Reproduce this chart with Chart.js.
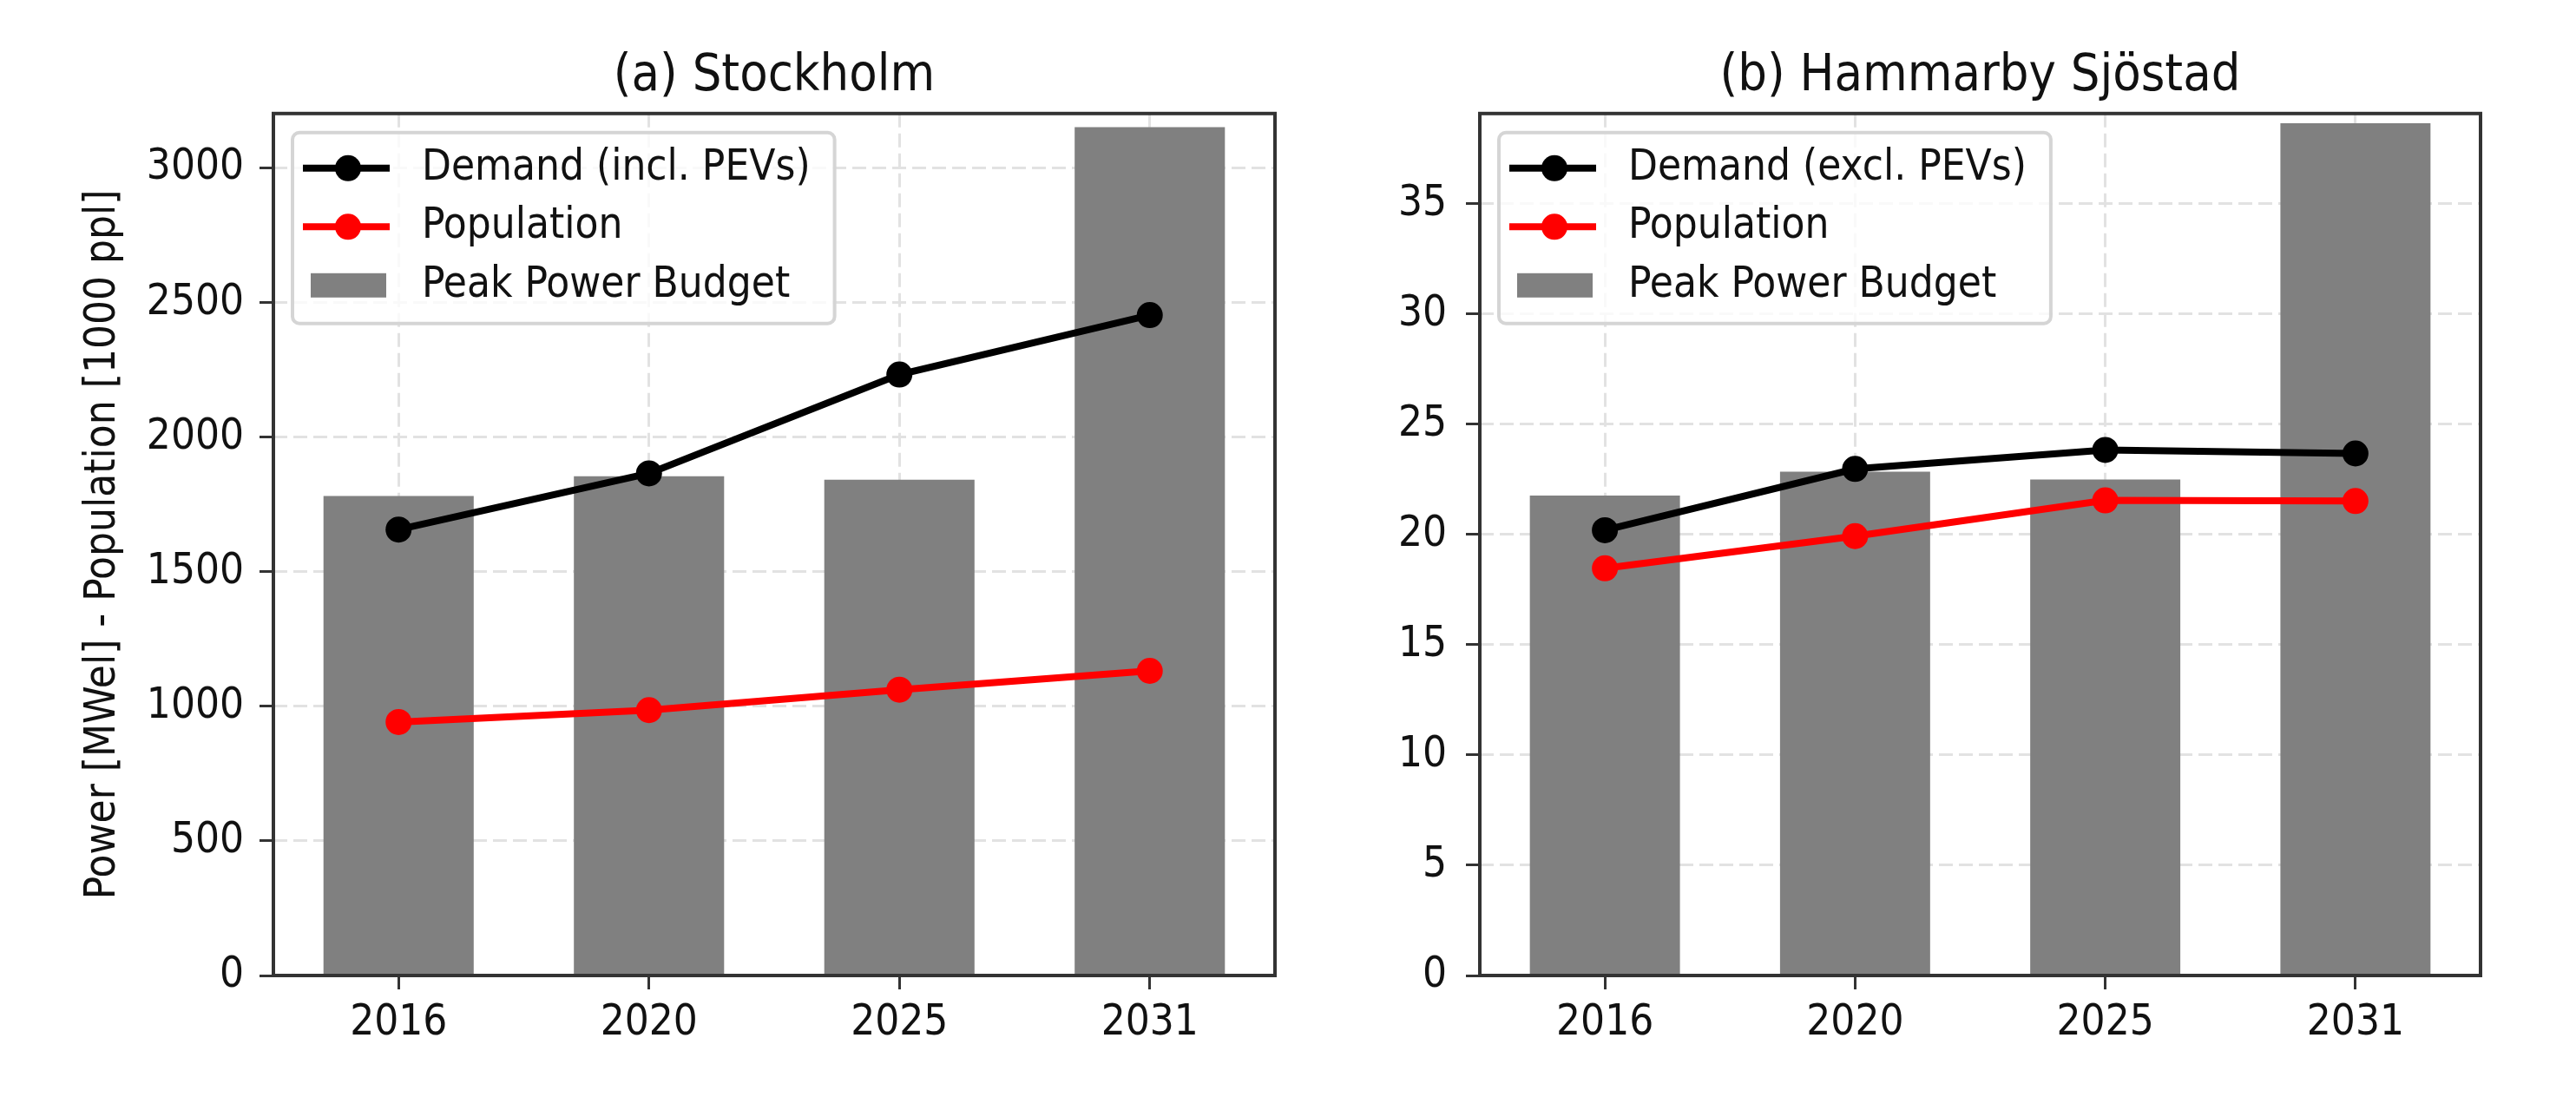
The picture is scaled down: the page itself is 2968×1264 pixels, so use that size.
<!DOCTYPE html>
<html>
<head>
<meta charset="utf-8">
<script src="https://cdn.jsdelivr.net/npm/chart.js@4.4.0/dist/chart.umd.min.js"></script>
<style>
    html, body { margin: 0; padding: 0; background: #fff; }
    #wrap { position: relative; width: 2968px; height: 1264px; }
    .panel { position: absolute; top: 0; width: 1484px; height: 1264px; }
</style>
</head>
<body>
<div id="wrap">
    <div class="panel" style="left:0"><canvas id="stockholm" width="1484" height="1264"></canvas></div>
    <div class="panel" style="left:1484px"><canvas id="hammarby" width="1484" height="1264"></canvas></div>
</div>
<script>
const years = ['2016', '2020', '2025', '2031'];

// (a) Stockholm
const sthlmBudget = [1782, 1855, 1842, 3152];
const sthlmDemand = [1657, 1866, 2233, 2454];
const sthlmPopulation = [942, 986, 1062, 1132];
const sthlmTicks = [0, 500, 1000, 1500, 2000, 2500, 3000];

// (b) Hammarby Sjöstad
const hsBudget = [21.77, 22.85, 22.5, 38.66];
const hsDemand = [20.2, 22.98, 23.84, 23.68];
const hsPopulation = [18.47, 19.93, 21.55, 21.52];
const hsTicks = [0, 5, 10, 15, 20, 25, 30, 35];

const FONT = "'DejaVu Sans Condensed', 'DejaVu Sans', sans-serif";
const TEXT = '#111';

// matplotlib-like closed frame around the axes
const framePlugin = {
    id: 'frame',
    afterDatasetsDraw(chart) {
        const { ctx, chartArea: a } = chart;
        ctx.save();
        ctx.strokeStyle = '#333';
        ctx.lineWidth = 4;
        ctx.strokeRect(a.left, a.top, a.right - a.left, a.bottom - a.top);
        ctx.restore();
    }
};

// legend drawn inside the plot, upper left
const legendPlugin = {
    id: 'insideLegend',
    afterDatasetsDraw(chart) {
        const { ctx, chartArea: a } = chart;
        const x0 = a.left + 22, y0 = a.top + 22;
        const rowH = 67.5;
        const textX = x0 + 149;
        ctx.save();
        ctx.font = '49px ' + FONT;
        let maxW = 0;
        chart.data.datasets.forEach(d => { maxW = Math.max(maxW, ctx.measureText(d.label).width); });
        const w = 149 + maxW + 28, h = 220, r = 8;

        ctx.beginPath();
        ctx.moveTo(x0 + r, y0);
        ctx.arcTo(x0 + w, y0, x0 + w, y0 + h, r);
        ctx.arcTo(x0 + w, y0 + h, x0, y0 + h, r);
        ctx.arcTo(x0, y0 + h, x0, y0, r);
        ctx.arcTo(x0, y0, x0 + w, y0, r);
        ctx.closePath();
        ctx.fillStyle = 'rgba(255,255,255,0.8)';
        ctx.fill();
        ctx.strokeStyle = '#d5d5d5';
        ctx.lineWidth = 4;
        ctx.stroke();

        chart.data.datasets.forEach((d, i) => {
            const y = y0 + 41 + i * rowH;
            if (d.type === 'line') {
                ctx.strokeStyle = d.borderColor;
                ctx.lineWidth = 8;
                ctx.beginPath();
                ctx.moveTo(x0 + 12, y);
                ctx.lineTo(x0 + 112, y);
                ctx.stroke();
                ctx.fillStyle = d.borderColor;
                ctx.beginPath();
                ctx.arc(x0 + 64, y, 15, 0, Math.PI * 2);
                ctx.fill();
            } else {
                ctx.fillStyle = d.backgroundColor;
                ctx.fillRect(x0 + 21, y - 14, 87, 28);
            }
            ctx.fillStyle = TEXT;
            ctx.textAlign = 'left';
            ctx.textBaseline = 'middle';
            ctx.fillText(d.label, textX, y);
        });
        ctx.restore();
    }
};

function gridOpts() {
    return {
        color: '#e2e2e2',
        lineWidth: 3,
        tickLength: 16,
        tickColor: '#333',
        tickWidth: 3,
        tickBorderDash: []
    };
}

function makeChart(id, cfg) {
    return new Chart(document.getElementById(id), {
        type: 'bar',
        data: {
            labels: years,
            datasets: [
                {
                    type: 'line', label: cfg.demandLabel, data: cfg.demand,
                    borderColor: '#000000', backgroundColor: '#000000', borderWidth: 8,
                    pointRadius: 15, pointBorderWidth: 0, pointBackgroundColor: '#000000',
                    tension: 0, order: 0
                },
                {
                    type: 'line', label: 'Population', data: cfg.population,
                    borderColor: '#ff0000', backgroundColor: '#ff0000', borderWidth: 8,
                    pointRadius: 15, pointBorderWidth: 0, pointBackgroundColor: '#ff0000',
                    tension: 0, order: 0
                },
                {
                    label: 'Peak Power Budget', data: cfg.budget,
                    backgroundColor: '#808080', categoryPercentage: 1, barPercentage: 0.6,
                    order: 1
                }
            ]
        },
        options: {
            responsive: false,
            animation: false,
            devicePixelRatio: 1,
            layout: { padding: { left: 0, right: cfg.padRight, top: 0, bottom: 0 } },
            plugins: {
                legend: { display: false },
                tooltip: { enabled: false },
                title: {
                    display: true, text: cfg.title, color: TEXT, fullSize: false,
                    font: { family: FONT, size: 59, weight: 'normal' },
                    padding: { top: 53, bottom: 7 }
                }
            },
            scales: {
                x: {
                    grid: Object.assign(gridOpts(), { offset: false }),
                    border: { display: false, dash: [16, 7] },
                    ticks: { color: TEXT, padding: 10, font: { family: FONT, size: 49 } },
                    afterFit: s => { s.height = 140; }
                },
                y: {
                    min: 0, max: cfg.yMax,
                    grid: gridOpts(),
                    border: { display: false, dash: [16, 7] },
                    ticks: {
                        color: TEXT, padding: cfg.tickPad, font: { family: FONT, size: 49 },
                        callback: v => String(v)
                    },
                    afterBuildTicks: s => { s.ticks = cfg.ticks.map(v => ({ value: v })); },
                    afterFit: s => { s.width = cfg.axisWidth; },
                    title: {
                        display: !!cfg.yTitle, text: cfg.yTitle || '', color: TEXT,
                        font: { family: FONT, size: 49 },
                        padding: { top: 90, bottom: 0 }
                    }
                }
            }
        },
        plugins: [framePlugin, legendPlugin]
    });
}

makeChart('stockholm', {
    title: '(a) Stockholm',
    demandLabel: 'Demand (incl. PEVs)',
    demand: sthlmDemand, population: sthlmPopulation, budget: sthlmBudget,
    ticks: sthlmTicks, yMax: 3203,
    yTitle: 'Power [MWel] - Population [1000 ppl]',
    axisWidth: 315, padRight: 12, tickPad: 18
});

makeChart('hammarby', {
    title: '(b) Hammarby Sjöstad',
    demandLabel: 'Demand (excl. PEVs)',
    demand: hsDemand, population: hsPopulation, budget: hsBudget,
    ticks: hsTicks, yMax: 39.1,
    yTitle: null,
    axisWidth: 221, padRight: 110, tickPad: 22
});
</script>
</body>
</html>
